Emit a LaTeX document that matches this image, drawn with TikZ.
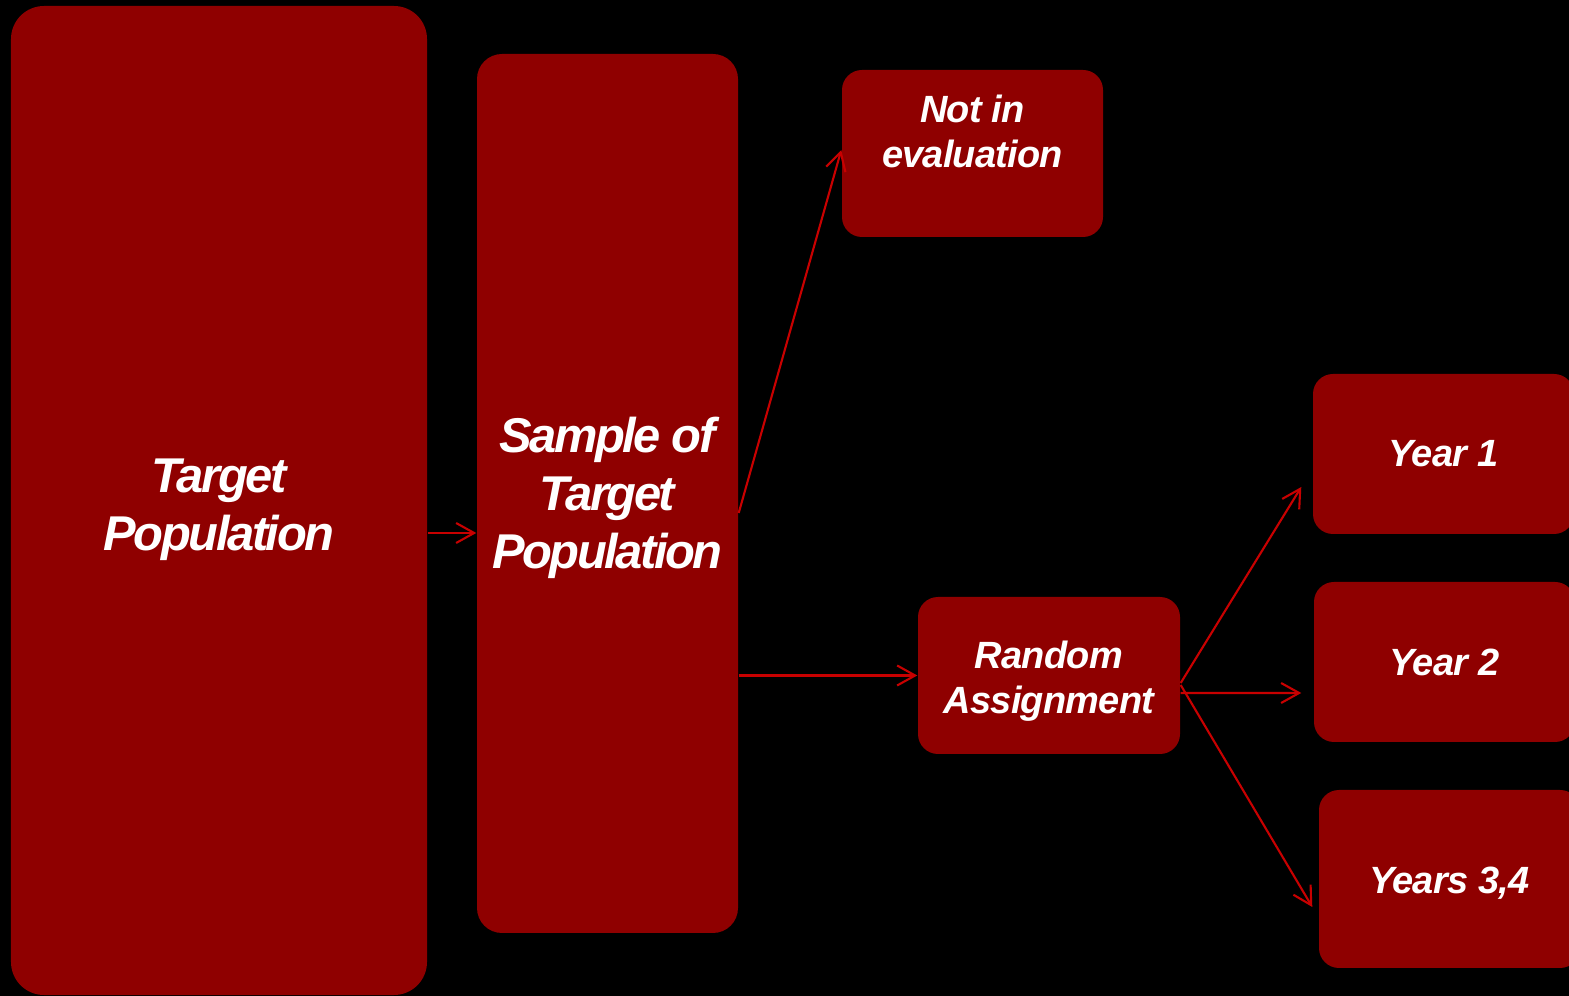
\documentclass[tikz,border=0pt]{standalone}
\usepackage{fontspec}
\setmainfont{Liberation Sans}
\usepackage{tikz}
\usetikzlibrary{arrows.meta}
\definecolor{boxred}{RGB}{143,0,0}
\definecolor{arrowred}{RGB}{200,0,0}

\begin{document}
\begin{tikzpicture}
        \path[use as bounding box, fill=black] (0,0) rectangle (15.69,-9.96);
        \tikzstyle{every node} = [rectangle, rounded corners=0.2cm, fill=boxred, text=white, align=center, inner sep=0pt]
        \tikzstyle{big} = [font=\fontsize{13.9}{16.5}\selectfont\bfseries\itshape\addfontfeatures{LetterSpace=-5}]
        \tikzstyle{small} = [font=\fontsize{10.8}{12.8}\selectfont\bfseries\itshape\addfontfeatures{LetterSpace=-2}]
        \tikzstyle{arr} = [draw=arrowred, line width=0.6pt, -{Straight Barb[length=1.8mm, width=2mm]}]
        \node[big, rounded corners=0.33cm, minimum width=4.16cm, minimum height=9.89cm] (0) at (2.19,-5.005) {\rule{0pt}{15pt}Target\\Population};
        \node[big, rounded corners=0.25cm, minimum width=2.61cm, minimum height=8.79cm] (1) at (6.075,-4.935) {\rule{0pt}{12.4pt}Sample of\\Target\\Population};
        \node[small, minimum width=2.61cm, minimum height=1.67cm] (2) at (9.725,-1.535) {Not in\\evaluation\\~};
        \node[small, minimum width=2.62cm, minimum height=1.57cm] (3) at (10.49,-6.755) {\rule{0pt}{11.3pt}Random\\Assignment};
        \node[small, minimum width=2.61cm, minimum height=1.60cm] (4) at (14.435,-4.54) {Year 1};
        \node[small, minimum width=2.61cm, minimum height=1.60cm] (5) at (14.445,-6.62) {Year 2};
        \node[small, minimum width=2.61cm, minimum height=1.78cm] (6) at (14.495,-8.79) {\rule{0pt}{10.1pt}Years 3,4};

        \coordinate (t) at ([yshift=-3.25mm]0.east);
        \draw[arr] (t) -- (t -| 1.west);
        \draw[arr] ([yshift=-1.95mm]1.east) -- ([yshift=0.35mm]2.west);
        \draw[arr] (1.east |- 3.west) -- (3.west);
        \foreach \to/\a/\bx/\by in {4/-0.75/-1.1/-3.3, 5/-1.75/-1.2/-3.1, 6/-0.95/-0.6/-2.8}
            \draw[arr] ([yshift=\a mm]3.east) -- ([xshift=\bx mm, yshift=\by mm]\to.west);
      \end{tikzpicture}
\end{document}
